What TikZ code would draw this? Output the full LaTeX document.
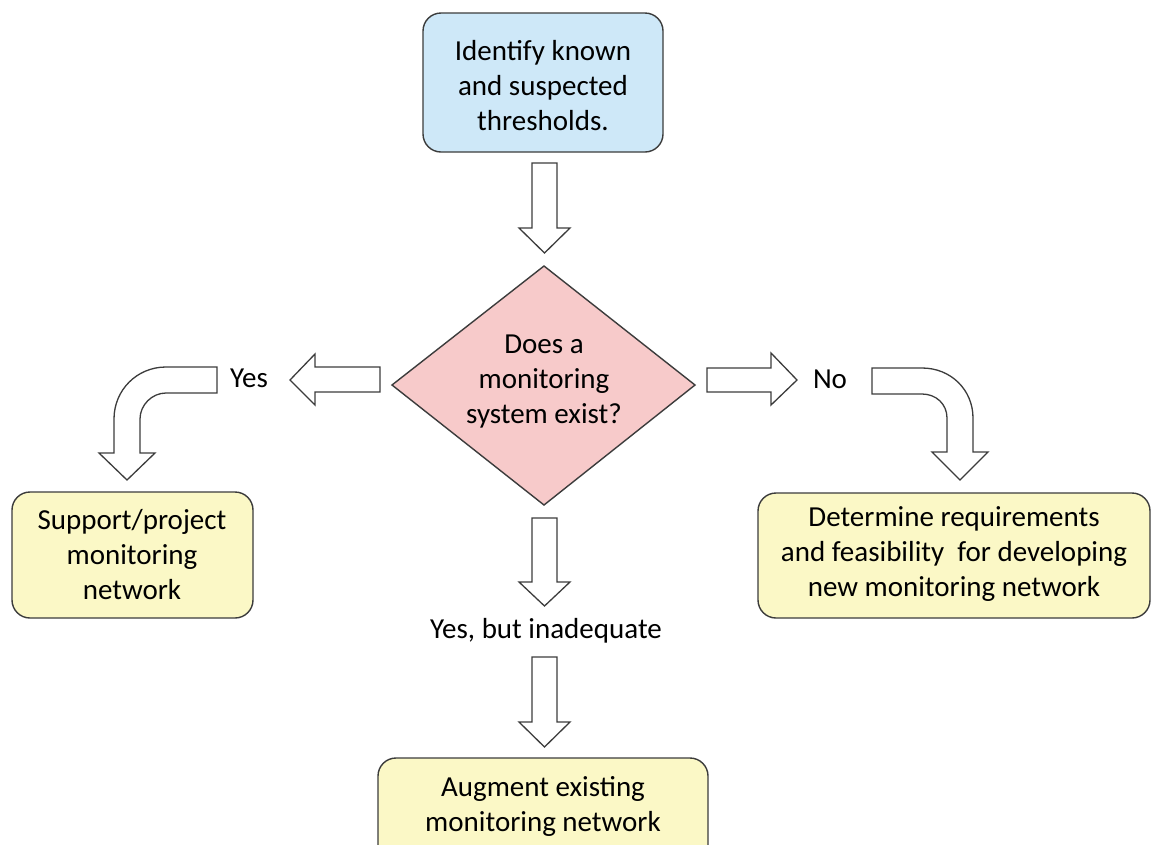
\documentclass[tikz,border=0pt]{standalone}
\usepackage{fontspec}
\setmainfont{Carlito}
\definecolor{bluefill}{RGB}{206,232,248}
\definecolor{pinkfill}{RGB}{247,202,202}
\definecolor{yellowfill}{RGB}{251,248,198}
\definecolor{edge}{RGB}{60,60,60}
\tikzset{
  box/.style={draw=edge, line width=1.4pt, rounded corners=18pt},
  label/.style={font=\fontsize{29}{35}\selectfont, align=center, text=black, inner sep=0pt},
  blockarrow/.style={draw=edge, fill=white, line width=1.3pt, line join=miter},
}
\begin{document}
\begin{tikzpicture}[x=1pt,y=-1pt]
\useasboundingbox (0,0) rectangle (1152,844);
\clip (0,0) rectangle (1152,844);
\fill[white] (0,0) rectangle (1152,844);

% boxes
\draw[box, fill=bluefill] (423,13) rectangle (663,152);
\node[label] (top) at (543,86) {Identify known\\and suspected\\thresholds.};

\draw[draw=edge, line width=1.4pt, fill=pinkfill] (544,266) -- (695,385) -- (544,505) -- (392,385) -- cycle;
\node[label] (dec) at (544,382) {Does a\\monitoring\\system exist?};

\draw[box, fill=yellowfill] (12,492) rectangle (253,618);
\node[label] (left) at (132,555) {Support/project\\monitoring\\network};

\draw[box, fill=yellowfill] (758,493) rectangle (1150,618);
\node[label] (right) at (954,554) {Determine requirements\\and feasibility\ \ for developing\\new monitoring network};

\draw[box, fill=yellowfill] (378,758) rectangle (708,890);
\node[label] (bottom) at (543,806) {Augment existing\\monitoring network};

% labels
\node[label] (yes) at (249,378) {Yes};
\node[label] (no) at (830,379) {No};
\node[label] (ybi) at (546,631) {Yes, but inadequate};

% straight down arrows
\draw[blockarrow] (532,163) -- (557,163) -- (557,228) -- (570,228) -- (544.5,253) -- (519,228) -- (532,228) -- cycle;
\draw[blockarrow] (532,518) -- (557,518) -- (557,582) -- (570,582) -- (544.5,606) -- (519,582) -- (532,582) -- cycle;
\draw[blockarrow] (532,657) -- (557,657) -- (557,722) -- (570,722) -- (544.5,747) -- (519,722) -- (532,722) -- cycle;

% left/right arrows
\draw[blockarrow] (380,367) -- (380,392) -- (315,392) -- (315,405) -- (290,380) -- (315,354) -- (315,367) -- cycle;
\draw[blockarrow] (707,368) -- (707,392) -- (771,392) -- (771,405) -- (797,380) -- (771,353) -- (771,368) -- cycle;

% bent arrows
\draw[blockarrow] (217,367) -- (166,367) .. controls (137,367) and (114,390) .. (114,419) -- (114,453) -- (99,453) -- (127,480) -- (155,453) -- (140,453) -- (140,419) .. controls (140,405) and (152,393) .. (166,393) -- (217,393) -- cycle;
\draw[blockarrow] (872,368) -- (922,368) .. controls (951,368) and (973,390) .. (973,418) -- (973,452) -- (988,452) -- (960,480) -- (932,452) -- (947,452) -- (947,418) .. controls (947,404) and (936,394) .. (922,394) -- (872,394) -- cycle;
\end{tikzpicture}
\end{document}
